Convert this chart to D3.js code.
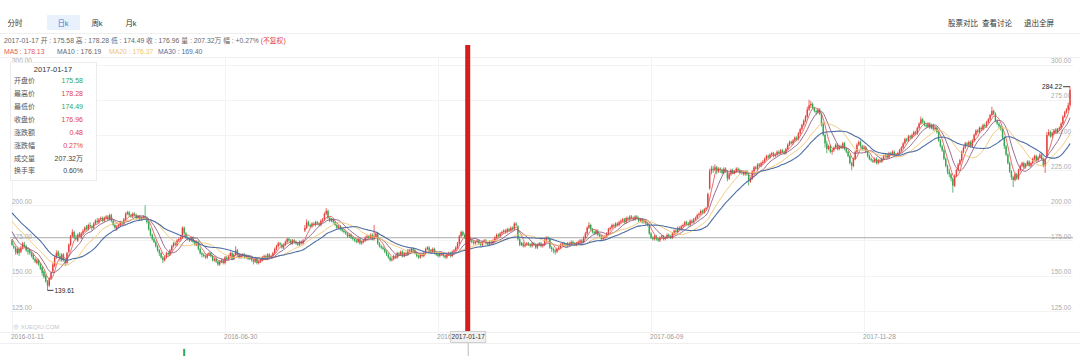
<!DOCTYPE html>
<html><head><meta charset="utf-8">
<script src="https://cdn.jsdelivr.net/npm/d3@7"></script>
<style>
html,body{margin:0;padding:0;background:#fff;}
svg{display:block;font-family:Arial,"Liberation Sans","Noto Sans CJK SC",sans-serif;}
</style></head><body>
<svg id="c" width="1080" height="356"></svg>
<script>
// ---------------- data ----------------
const priorCloses = [208,210,209,207,211,209,206,203,201,199,199,201,197,195,193,194,196,197,195,193,191,189,187,184,182,180,178,176,174];
const opens = [
175,171,170,166,169,167,170,172,171,168, 168,166,165,162,159,161,158,156,153,150,
146,143,148,153,157,163,167,164,161,165, 161,159,167,172,178,181,177,175,180,177,
180,182,185,183,186,185,184,187,189,188, 190,191,189,191,192,190,193,189,186,183,
185,186,188,187,190,194,195,193,192,194, 193,191,192,190,191,192,191,188,183,179,
176,174,171,168,166,163,161,163,166,165, 168,171,173,172,175,176,177,184,180,177,
176,175,177,174,172,174,169,166,165,164, 163,165,166,164,161,162,160,158,160,161,
159,163,162,164,166,162,165,168,165,163, 164,165,163,164,162,163,161,160,162,159,
160,161,163,164,162,165,163,164,166,169, 171,173,172,170,172,174,176,175,173,175,
174,173,172,174,173,182,184,188,186,185, 187,186,188,187,186,189,190,194,196,191,
189,190,188,186,184,185,183,182,181,180, 178,179,177,176,175,174,176,173,174,175,
177,178,177,179,176,178,180,173,171,170, 169,167,165,163,161,162,164,163,166,165,
167,164,166,165,168,167,169,168,166,164, 163,165,164,166,169,170,168,167,169,166,
165,164,166,165,164,163,165,166,164,167, 168,170,173,178,181,179,177,175.58,177,175,
174,173,174,175,173,172,174,175,173,172, 174,173,175,177,179,178,180,181,182,181,
183,182,184,183,187,185,176,172,173,171, 172,173,172,171,173,172,170,172,173,171,
172,175,177,176,170,169,168,167,169,170, 172,173,172,171,173,172,174,173,172,173,
174,175,174,177,180,184,186,183,181,180, 182,179,178,176,177,178,180,183,184,186,
185,187,186,188,189,190,188,191,190,192, 191,190,192,191,189,190,188,189,187,186,
180,177,176,178,176,175,177,178,176,177, 179,178,177,180,182,181,184,183,185,186,
188,187,186,189,188,190,191,193,194,196, 195,197,199,212,224,226,225,227,224,226,
225,223,226,224,219,222,225,223,224,226, 225,223,224,222,224,222,217,219,224,227,
226,229,228,230,231,233,235,234,236,237, 235,236,238,237,239,238,237,240,243,245,
244,246,248,247,251,254,257,260,263,268, 271,272,269,267,266,268,265,258,250,244,
240,242,238,239,241,243,240,242,241,244, 240,238,235,230,228,233,238,243,245,242,
240,241,238,235,233,232,231,233,230,232, 231,233,235,236,234,237,236,238,235,236,
237,239,241,244,247,246,249,248,250,252, 251,255,258,261,259,257,256,258,255,257,
254,255,252,246,242,239,233,228,224,222, 219,214,221,225,229,232,238,241,244,243,
245,242,246,250,253,252,255,254,257,256, 259,261,264,267,265,260,258,256,254,248,
242,236,230,224,220,218,222,219,225,228, 230,227,229,231,228,230,233,235,232,234,
236,233,228,235,250,252,249,251,253,252, 254,255,258,263,266,268,271];
const highs = [
176,173,171,170,170,171,174,174,172,170, 169,167,166,163,162,162,159,157,154,151,
147,149,153,159,164,168,168,166,166,166, 162,167,173,179,183,182,179,180,181,181,
183,185,186,187,188,186,188,190,191,191, 192,192,192,193,193,194,194,190,187,186,
187,189,189,191,195,196,196,194,195,195, 194,193,193,192,193,200,192,189,184,180,
177,175,172,169,167,164,164,167,167,169, 172,174,174,176,177,178,185,185,181,178,
177,178,178,175,175,175,170,167,166,165, 166,167,167,165,163,163,161,161,162,162,
164,164,165,167,167,166,171,169,166,165, 166,166,165,165,164,164,162,163,163,161,
162,164,165,165,166,166,165,167,170,172, 174,174,173,173,175,177,177,176,176,176,
175,174,175,175,176,186,190,189,187,188, 188,189,189,188,190,191,195,198,197,192,
191,191,189,187,186,186,184,183,182,181, 180,180,178,177,176,177,177,175,176,178,
179,179,180,180,186,181,181,174,172,171, 170,168,166,164,163,165,165,167,167,168,
168,167,167,169,169,170,170,169,167,165, 166,166,167,170,171,171,169,170,170,167,
166,167,167,166,165,166,167,167,168,169, 171,174,179,182,182,180,178,178.28,178,176,
175,175,176,176,174,175,176,176,174,175, 175,176,178,180,180,181,182,183,183,184,
184,185,185,188,188,186,177,174,174,173, 174,174,173,174,174,173,173,174,174,173,
176,178,178,177,171,170,169,170,171,173, 174,174,173,174,174,175,175,174,174,175,
176,176,178,181,185,188,187,184,182,183, 183,180,179,178,179,181,184,185,187,187,
188,188,189,190,191,191,192,192,193,193, 192,193,193,192,191,191,190,190,188,187,
181,178,179,179,177,178,179,179,178,180, 180,179,181,183,183,185,185,186,187,189,
189,188,190,190,191,192,194,195,197,197, 198,199,209,226,228,228,229,228,227,227,
226,227,227,225,223,226,226,225,227,227, 226,225,225,225,225,223,220,225,228,228,
230,230,231,232,234,236,236,237,238,238, 237,239,239,240,240,239,241,244,246,246,
247,249,249,252,255,258,261,264,270,275, 274,273,270,268,269,269,266,259,251,246,
243,243,240,242,244,244,243,243,245,245, 241,239,236,231,234,239,244,246,246,243,
242,242,239,236,234,233,234,234,233,233, 234,236,237,237,238,238,239,239,237,238,
240,242,245,248,248,250,250,251,253,253, 256,259,263,262,260,258,259,259,258,258,
256,256,253,247,243,240,234,229,226,223, 220,222,226,230,233,239,242,245,245,246,
246,247,251,254,254,256,256,258,258,260, 262,265,270,268,266,261,259,257,255,249,
243,237,231,225,221,223,223,226,229,231, 231,230,232,232,231,234,236,236,235,237,
237,234,233,252,254,253,252,254,255,255, 256,259,264,267,269,273,284.22];
const lows = [
171,169,165,165,164,166,169,170,167,165, 165,163,161,159,158,157,154,150,148,145,
139.61,142,147,152,156,162,163,160,160,160, 157,158,166,171,177,176,175,174,177,176,
179,181,182,182,184,182,183,186,187,187, 189,188,188,190,189,189,188,185,183,182,
184,185,186,186,189,193,192,191,191,192, 190,190,189,189,190,190,187,182,178,175,
173,170,167,164,162,159,160,162,164,164, 167,170,171,171,174,175,176,179,176,175,
174,174,173,171,171,168,165,163,163,162, 162,164,163,160,160,159,157,157,159,158,
158,161,161,163,161,161,164,164,162,162, 163,162,162,161,161,160,158,159,158,158,
159,160,162,161,161,162,162,163,165,168, 170,171,169,169,171,173,174,172,172,173,
172,171,171,172,172,181,183,185,184,184, 185,185,186,185,185,188,189,193,190,188,
188,187,185,183,183,182,181,180,179,177, 177,176,175,174,173,173,172,172,173,174,
176,176,176,175,175,177,172,170,169,168, 166,164,162,160,160,161,162,162,164,164,
163,163,164,164,166,166,167,165,163,162, 162,163,163,165,168,167,166,166,165,164,
163,163,164,163,162,162,164,163,163,166, 167,169,172,177,178,176,175,174.49,174,173,
172,172,173,172,171,171,173,172,171,171, 172,172,174,176,177,177,179,180,180,180,
181,181,182,182,185,175,171,171,170,170, 171,171,170,170,171,169,169,171,170,170,
171,174,175,169,167,166,165,166,168,169, 171,171,170,170,171,171,172,171,171,172,
173,173,173,176,179,183,182,180,179,179, 178,177,175,175,176,177,179,182,183,184,
184,185,185,187,188,187,187,189,189,190, 189,189,190,188,188,187,187,186,185,179,
176,175,175,175,174,174,176,175,175,176, 177,176,176,179,180,180,182,182,184,185,
186,185,185,187,187,189,190,192,193,194, 194,196,198,211,222,223,224,222,223,223,
222,222,223,217,218,221,222,222,223,224, 222,222,221,221,221,214,216,218,223,225,
225,227,227,229,230,232,233,233,235,234, 234,235,236,236,237,236,236,239,242,243,
243,245,246,246,250,253,256,259,262,267, 269,268,266,264,265,264,256,249,241,237,
239,237,236,238,240,239,239,240,240,239, 237,234,229,225,227,232,237,242,241,239,
239,237,234,232,231,230,230,229,229,230, 230,232,234,233,233,235,235,234,234,235,
236,238,240,243,245,245,247,247,249,250, 250,254,257,258,256,255,255,254,254,253,
253,251,245,241,238,232,227,222,220,217, 209,213,220,224,228,231,237,240,242,242,
241,241,245,249,251,251,253,253,255,255, 258,260,263,264,259,257,255,253,247,240,
235,229,223,218,213,217,218,218,224,227, 226,226,228,227,227,229,232,231,231,233,
232,227,223,234,249,248,248,250,251,251, 253,254,257,262,265,267,270];
const closes = [
172,170,167,169,166,170,173,171,168,167, 166,164,162,160,161,158,155,152,149,146,
143,148,152,158,163,166,164,162,165,161, 159,166,172,178,181,177,176,179,178,180,
182,184,183,186,185,184,187,189,188,190, 191,189,191,192,190,193,189,186,184,185,
186,188,187,190,194,195,193,192,194,193, 191,192,190,191,192,191,188,183,179,176,
174,171,168,166,163,161,163,166,165,168, 171,173,172,175,176,177,184,180,177,176,
175,177,174,172,174,169,166,165,164,163, 165,166,164,161,162,160,158,160,161,159,
163,162,164,166,162,165,168,165,163,164, 165,163,164,162,163,161,160,162,159,160,
161,163,164,162,165,163,164,166,169,171, 173,172,170,172,174,176,175,173,175,174,
173,172,174,173,175,184,188,186,185,187, 186,188,187,186,189,190,194,196,191,189,
190,188,186,184,185,183,182,181,180,178, 179,177,176,175,174,176,173,174,175,177,
178,177,179,176,178,180,173,171,170,169, 167,165,163,161,162,164,163,166,165,167,
164,166,165,168,167,169,168,166,164,163, 165,164,166,169,170,168,167,169,166,165,
164,166,165,164,163,165,166,164,167,168, 170,173,178,181,179,177,176.48,176.96,175,174,
173,174,175,173,172,174,175,173,172,174, 173,175,177,179,178,180,181,182,181,183,
182,184,183,187,186,176,172,173,171,172, 173,172,171,173,172,170,172,173,171,172,
175,177,176,170,169,168,167,169,170,172, 173,172,171,173,172,174,173,172,173,174,
175,174,177,180,184,186,183,181,180,182, 179,178,176,177,178,180,183,184,186,185,
187,186,188,189,190,188,191,190,192,191, 190,192,191,189,190,188,189,187,186,180,
177,176,178,176,175,177,178,176,177,179, 178,177,180,182,181,184,183,185,186,188,
187,186,189,188,190,191,193,194,196,195, 197,198,208,224,226,225,227,224,226,225,
223,226,224,219,222,225,223,224,226,225, 223,224,222,224,222,217,219,224,227,226,
229,228,230,231,233,235,234,236,237,235, 236,238,237,239,238,237,240,243,245,244,
246,248,247,251,254,257,260,263,268,271, 272,269,267,266,268,265,258,250,244,240,
242,238,239,241,243,240,242,241,244,240, 238,235,230,228,233,238,243,245,242,240,
241,238,235,233,232,231,233,230,232,231, 233,235,236,234,237,236,238,235,236,237,
239,241,244,247,246,249,248,250,252,251, 255,258,261,259,257,256,258,255,257,254,
255,252,246,242,239,233,228,224,222,219, 214,221,225,229,232,238,241,244,243,245,
242,246,250,253,252,255,254,257,256,259, 261,264,267,265,260,258,256,254,248,242,
236,230,224,220,218,222,219,225,228,230, 227,229,231,228,230,233,235,232,234,236,
233,228,232,250,252,249,251,253,252,254, 255,258,263,266,268,271,282];

const yTicks = [125,150,175,200,225,250,275,300];
const leftTicks = [125,150,175,200,300];
const dateTickIndex = [0,120,240,360,480];
const dateTickLabels = ["2016-01-11","2016-06-30","2016-12-19","2017-06-09","2017-11-28"];
const selIndex = 257;
const selDate = "2017-01-17";
const maPeriods = [5,10,20,30];
const maNames = ["MA5","MA10","MA20","MA30"];
const maLegendValues = ["178.13","176.19","176.37","169.40"];
const panelLabels = ["开盘价","最高价","最低价","收盘价","涨跌额","涨跌幅","成交量","换手率"];
const panelValues = ["175.58","178.28","174.49","176.96","0.48","0.27%","207.32万","0.60%"];
const headerParts = ["2017-01-17 开 : 175.58 高 : 178.28 低 : 174.49 收 : 176.96 量 : 207.32万 幅 : +0.27% ","(不复权)"];
const tabs = ["分时","日k","周k","月k"];
const links = ["股票对比","查看讨论","退出全屏"];
const volIndex = [97];
const volValue = [9.4];

// ---------------- styles ----------------
const UP = "#e4403b", DOWN = "#35a651";
const maColors = ["#e35a56","#8a5b82","#f0c46e","#4f6fa5"];
const panelColors = [DOWN,UP,DOWN,UP,UP,UP,"#444","#444"];

const svg = d3.select("#c");
const N = closes.length;
const x = d3.scaleLinear().domain([0, N-1]).range([12, 1070]);
const y = d3.scaleLinear().domain([125, 300]).range([310.9, 64.5]);
const PL = 10, PR = 1073, PT = 57, PB = 332;

// frame lines
[33, PT, PB, 343].forEach(v => svg.append("line").attr("x1",0).attr("x2",1080).attr("y1",v+0.5).attr("y2",v+0.5)
  .attr("stroke","#efefef").attr("stroke-width",1));

// grid
svg.append("g").selectAll("line").data(yTicks).join("line")
  .attr("x1",PL).attr("x2",PR).attr("y1",d=>Math.round(y(d))+0.5).attr("y2",d=>Math.round(y(d))+0.5)
  .attr("stroke","#f3f3f3");
svg.append("g").selectAll("line").data(dateTickIndex).join("line")
  .attr("x1",d=>Math.round(x(d))+0.5).attr("x2",d=>Math.round(x(d))+0.5).attr("y1",PT).attr("y2",PB)
  .attr("stroke","#f3f3f3");

// axis labels (left & right)
const fmt = d3.format(".2f");
svg.append("g").selectAll("text").data(yTicks).join("text")
  .attr("x",1071).attr("y",d=>y(d)-3.5).attr("dy","0.35em").attr("text-anchor","end")
  .attr("font-size",6.5).attr("fill","#aaa").text(d=>fmt(d));
svg.append("g").selectAll("text").data(leftTicks).join("text")
  .attr("x",12).attr("y",d=>y(d)-3.5).attr("dy","0.35em").attr("text-anchor","start")
  .attr("font-size",6.5).attr("fill","#aaa").text(d=>fmt(d));

// watermark
svg.append("text").attr("x",13).attr("y",327).attr("dy","0.35em").attr("font-size",6)
  .attr("fill","#c8c8c8").text("⊕ XUEQIU.COM");

// crosshair horizontal
svg.append("line").attr("x1",PL).attr("x2",PR)
  .attr("y1",y(closes[selIndex])).attr("y2",y(closes[selIndex]))
  .attr("stroke","#a0a0a0").attr("stroke-width",0.9);

// candles
const idx = d3.range(N);
const col = i => closes[i] >= opens[i] ? UP : DOWN;
const bw = 1.4;
const gC = svg.append("g");
gC.selectAll("line").data(idx).join("line")
  .attr("x1",i=>x(i)).attr("x2",i=>x(i)).attr("y1",i=>y(highs[i])).attr("y2",i=>y(lows[i]))
  .attr("stroke",col).attr("stroke-width",0.8);
gC.selectAll("rect").data(idx).join("rect")
  .attr("x",i=>x(i)-bw/2).attr("width",bw)
  .attr("y",i=>y(Math.max(opens[i],closes[i])))
  .attr("height",i=>Math.max(0.8, Math.abs(y(opens[i])-y(closes[i]))))
  .attr("fill",col);

// moving averages
const all = priorCloses.concat(closes);
const off = priorCloses.length;
maPeriods.forEach((p,k) => {
  const vals = idx.map(i => d3.mean(all.slice(i+off-p+1, i+off+1)));
  svg.append("path").datum(vals)
    .attr("d", d3.line().x((d,i)=>x(i)).y(d=>y(d)).curve(d3.curveMonotoneX))
    .attr("fill","none").attr("stroke",maColors[k]).attr("stroke-width",k===3?1.1:0.9);
});

// max / min labels
const iMax = d3.maxIndex(highs), iMin = d3.minIndex(lows);
svg.append("line").attr("x1",x(iMax)-7).attr("x2",x(iMax)).attr("y1",y(highs[iMax])).attr("y2",y(highs[iMax]))
  .attr("stroke","#222").attr("stroke-width",0.9);
svg.append("text").attr("x",x(iMax)-8).attr("y",y(highs[iMax])).attr("dy","0.35em").attr("text-anchor","end")
  .attr("font-size",6.5).attr("fill","#222").text(fmt(highs[iMax]));
svg.append("line").attr("x1",x(iMin)).attr("x2",x(iMin)+6).attr("y1",y(lows[iMin])).attr("y2",y(lows[iMin]))
  .attr("stroke","#222").attr("stroke-width",0.9);
svg.append("text").attr("x",x(iMin)+7).attr("y",y(lows[iMin])).attr("dy","0.35em")
  .attr("font-size",6.5).attr("fill","#222").text(fmt(lows[iMin]));

// info panel
svg.append("rect").attr("x",10.5).attr("y",62.5).attr("width",86).attr("height",118)
  .attr("fill","#fff").attr("fill-opacity",0.95).attr("stroke","#ececec");
svg.append("text").attr("x",53).attr("y",69).attr("dy","0.35em").attr("text-anchor","middle")
  .attr("font-size",7.5).attr("fill","#333").text(selDate);
const rowY = d3.scaleLinear().domain([0,7]).range([81,171]);
svg.append("g").selectAll("text").data(panelLabels).join("text")
  .attr("x",14).attr("y",(d,i)=>rowY(i)).attr("dy","0.35em").attr("font-size",7).attr("fill","#555").text(d=>d);
svg.append("g").selectAll("text").data(panelValues).join("text")
  .attr("x",83).attr("y",(d,i)=>rowY(i)).attr("dy","0.35em").attr("text-anchor","end")
  .attr("font-size",7).attr("fill",(d,i)=>panelColors[i]).text(d=>d);

// header tabs
svg.append("rect").attr("x",47).attr("y",15).attr("width",33).attr("height",15).attr("fill","#e9f2fc");
const tabX = [15,63,97,131];
svg.append("g").selectAll("text").data(tabs).join("text")
  .attr("x",(d,i)=>tabX[i]).attr("y",23).attr("dy","0.35em").attr("text-anchor","middle")
  .attr("font-size",7.5).attr("fill",(d,i)=>i===1?"#3a7bd5":"#333").text(d=>d);
const linkX = [963,997,1039];
svg.append("g").selectAll("text").data(links).join("text")
  .attr("x",(d,i)=>linkX[i]).attr("y",23).attr("dy","0.35em").attr("text-anchor","middle")
  .attr("font-size",7.5).attr("fill","#333").text(d=>d);

// header info line
const h = svg.append("text").attr("x",4).attr("y",41).attr("dy","0.35em").attr("font-size",6.8);
h.append("tspan").attr("fill","#666").text(headerParts[0]);
h.append("tspan").attr("fill","#e4403b").text(headerParts[1]);
const mlX = [4,57,109,158];
maNames.forEach((n,k) => {
  svg.append("text").attr("x",mlX[k]).attr("y",52).attr("dy","0.35em").attr("font-size",6.8)
    .attr("fill", k===1 ? "#666" : maColors[k]).text(n+" : "+maLegendValues[k]);
});

// date labels
svg.append("g").selectAll("text").data(dateTickIndex).join("text")
  .attr("x",d=>x(d)-1).attr("y",337).attr("dy","0.35em").attr("font-size",6.5).attr("fill","#999")
  .text((d,i)=>dateTickLabels[i]);

// volume spike
const vy = d3.scaleLinear().domain([0,10]).range([410,345]);
svg.append("g").selectAll("rect").data(volIndex).join("rect")
  .attr("x",d=>x(d)-1).attr("width",2).attr("y",(d,i)=>vy(volValue[i])).attr("height",(d,i)=>356-vy(volValue[i]))
  .attr("fill",d=>col(d));

// red marker line at selected day
const sx = x(selIndex);
svg.append("line").attr("x1",sx).attr("x2",sx).attr("y1",343).attr("y2",356).attr("stroke","#aaa").attr("stroke-width",0.8);
svg.append("rect").attr("x",sx-3).attr("y",45).attr("width",5).attr("height",287).attr("fill","#d51d1d");
// crosshair date box
svg.append("rect").attr("x",sx-17.5).attr("y",331.5).attr("width",35).attr("height",11)
  .attr("fill","#f1f1f1").attr("stroke","#d0d0d0");
svg.append("text").attr("x",sx).attr("y",337).attr("dy","0.35em").attr("text-anchor","middle")
  .attr("font-size",6.5).attr("fill","#333").text(selDate);
</script>
</body></html>
